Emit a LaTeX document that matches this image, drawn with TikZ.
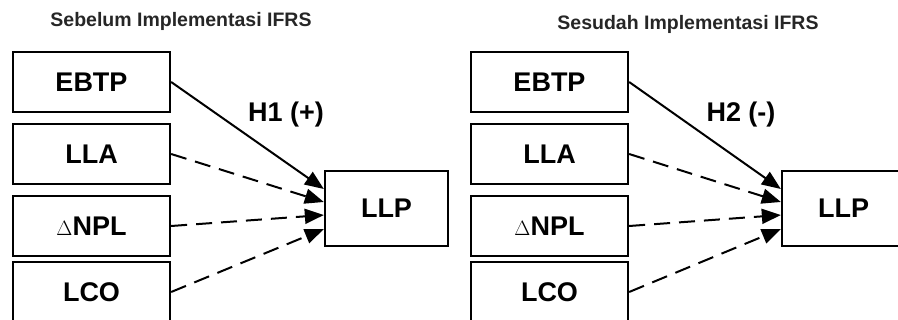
\documentclass[tikz,border=0pt]{standalone}
\usepackage{fontspec}
\setmainfont{Liberation Sans}
\usetikzlibrary{arrows.meta,positioning,calc}

\begin{document}
\begin{tikzpicture}[
  x=1pt,y=-1pt,
  >={Triangle[length=19pt,width=15pt]},
  var/.style={rectangle,draw,line width=2.3pt,minimum width=157pt,minimum height=60pt,
    inner sep=0pt,font=\fontsize{27}{29}\selectfont\bfseries},
  dep/.style={var,minimum width=123pt,minimum height=75pt},
  hyp/.style={line width=2pt},
  ctl/.style={line width=2pt,dash pattern=on 16pt off 9pt},
  lab/.style={font=\fontsize{27}{29}\selectfont\bfseries},
  ttl/.style={font=\fontsize{19.5}{21}\selectfont\bfseries,text=black!85}
]
\clip (0,0) rectangle (898,320);

% ===================== LEFT: before IFRS =====================
\node[ttl] (ttlA) at (181,21) {Sebelum Implementasi IFRS};

\node[var] (ebtpA) at (91.5,82)  {EBTP};
\node[var] (llaA)  at (91.5,154) {LLA};
\node[var] (nplA)  at (91.5,226) {{\fontsize{22}{22}\selectfont$\Delta$}NPL};
\node[var] (lcoA)  at (91.5,292) {LCO};

\node[dep] (llpA) at (386.5,208.5) {LLP};

% arrow ends on the LLP box
\coordinate (inA1) at ($(llpA.west)+(0,-19.5)$);
\coordinate (inA2) at ($(llpA.west)+(0,-6.5)$);
\coordinate (inA3) at ($(llpA.west)+(0,6.5)$);
\coordinate (inA4) at ($(llpA.west)+(0,20.5)$);

\draw[hyp,->] (ebtpA.east) -- (inA1);
\draw[ctl,->] (llaA.east) -- (inA2);
\draw[ctl,->] (nplA.east) -- (inA3);
\draw[ctl,->] (lcoA.east) -- (inA4);

\node[lab] (hypA) at (286,115) {H1 (+)};

% ===================== RIGHT: after IFRS =====================
\node[ttl] (ttlB) at (688,24) {Sesudah Implementasi IFRS};

\node[var] (ebtpB) at (549.5,82)  {EBTP};
\node[var] (llaB)  at (549.5,154) {LLA};
\node[var] (nplB)  at (549.5,226) {{\fontsize{22}{22}\selectfont$\Delta$}NPL};
\node[var] (lcoB)  at (549.5,292) {LCO};

\node[dep] (llpB) at (843.5,208.5) {LLP};

\coordinate (inB1) at ($(llpB.west)+(0,-19.5)$);
\coordinate (inB2) at ($(llpB.west)+(0,-6.5)$);
\coordinate (inB3) at ($(llpB.west)+(0,6.5)$);
\coordinate (inB4) at ($(llpB.west)+(0,20.5)$);

\draw[hyp,->] (ebtpB.east) -- (inB1);
\draw[ctl,->] (llaB.east) -- (inB2);
\draw[ctl,->] (nplB.east) -- (inB3);
\draw[ctl,->] (lcoB.east) -- (inB4);

\node[lab] (hypB) at (741,115) {H2 (-)};

\end{tikzpicture}
\end{document}
